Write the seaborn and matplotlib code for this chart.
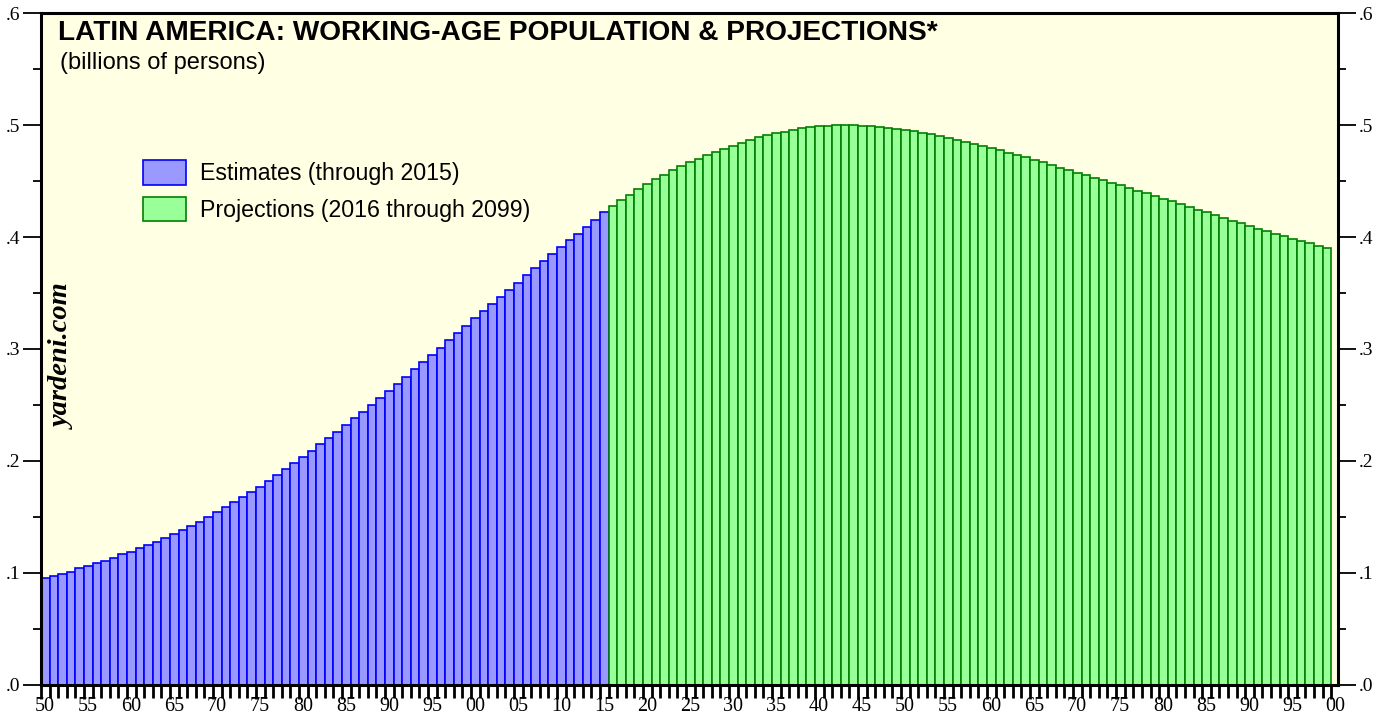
import matplotlib
matplotlib.use("Agg")
import matplotlib.pyplot as plt
import matplotlib.transforms as mtransforms
import pandas as pd
import seaborn as sns
from matplotlib.ticker import MultipleLocator, FuncFormatter

sns.set_style("ticks")
plt.rcParams['font.family'] = ['Liberation Sans', 'DejaVu Sans']
plt.rcParams['text.color'] = 'black'
plt.rcParams['xtick.color'] = 'black'
plt.rcParams['ytick.color'] = 'black'

# du lieu: dan so do tuoi lao dong (ty nguoi)
est_years = list(range(1950, 2016))
est_values = [
    0.0950, 0.0967, 0.0988, 0.1009, 0.1039, 0.1062, 0.1083, 0.1107, 0.1134, 0.1164,
    0.1188, 0.1218, 0.1244, 0.1274, 0.1307, 0.1343, 0.1381, 0.1414, 0.1456, 0.1498,
    0.1542, 0.1584, 0.1629, 0.1674, 0.1721, 0.1768, 0.1819, 0.1873, 0.1924, 0.1980,
    0.2037, 0.2090, 0.2147, 0.2204, 0.2260, 0.2323, 0.2380, 0.2439, 0.2502, 0.2564,
    0.2624, 0.2687, 0.2752, 0.2818, 0.2881, 0.2946, 0.3011, 0.3077, 0.3143, 0.3208,
    0.3274, 0.3337, 0.3402, 0.3464, 0.3527, 0.3592, 0.3658, 0.3721, 0.3786, 0.3852,
    0.3912, 0.3972, 0.4030, 0.4088, 0.4150, 0.4227,
]
proj_years = list(range(2016, 2100))
proj_values = [
    0.4278, 0.4329, 0.4379, 0.4427, 0.4472, 0.4517, 0.4555, 0.4597, 0.4633, 0.4669,
    0.4701, 0.4734, 0.4764, 0.4790, 0.4817, 0.4844, 0.4868, 0.4892, 0.4910, 0.4928,
    0.4942, 0.4958, 0.4972, 0.4981, 0.4990, 0.4996, 0.4999, 0.5000, 0.4999, 0.4996,
    0.4993, 0.4987, 0.4979, 0.4970,
    0.4958, 0.4946, 0.4931, 0.4919, 0.4904, 0.4886, 0.4871, 0.4853, 0.4835, 0.4817,
    0.4797, 0.4776, 0.4755, 0.4734, 0.4713, 0.4689, 0.4669, 0.4645, 0.4621, 0.4600,
    0.4576, 0.4552, 0.4531, 0.4510, 0.4486, 0.4463, 0.4439, 0.4415, 0.4392, 0.4368,
    0.4343, 0.4320, 0.4293, 0.4269, 0.4245, 0.4222, 0.4198, 0.4171, 0.4147, 0.4123,
    0.4099, 0.4075, 0.4055, 0.4031, 0.4007, 0.3983, 0.3962, 0.3945, 0.3923, 0.3903,
]
labels = ["Estimates (through 2015)", "Projections (2016 through 2099)"]

df_est = pd.DataFrame({"year": est_years, "value": est_values})
df_proj = pd.DataFrame({"year": proj_years, "value": proj_values})
# thanh bat dau tu dau nam -> dat o giua nam
df_est["mid"] = df_est["year"] + 0.5
df_proj["mid"] = df_proj["year"] + 0.5

fig = plt.figure(figsize=(13.93, 7.17), dpi=100)
ax = fig.add_axes([41 / 1393, 1 - 684.5 / 717, (1338 - 41) / 1393, (684.5 - 13.3) / 717])
ax.set_facecolor("#FFFFE3")

sns.barplot(data=df_est, x="mid", y="value", native_scale=True, width=1,
            color="#9999FF", edgecolor="#0000FF", linewidth=1.2, saturation=1,
            errorbar=None, ax=ax)
sns.barplot(data=df_proj, x="mid", y="value", native_scale=True, width=1,
            color="#99FF99", edgecolor="#008000", linewidth=1.2, saturation=1,
            errorbar=None, ax=ax)

ax.set_xlim(1950, 2100.8)
ax.set_ylim(0, 0.6)
ax.set_xlabel("")
ax.set_ylabel("")

for s in ax.spines.values():
    s.set_linewidth(2.2)
    s.set_color("black")

# truc x: nhan 2 chu so
ax.xaxis.set_major_locator(MultipleLocator(5))
ax.xaxis.set_minor_locator(MultipleLocator(1))
ax.xaxis.set_major_formatter(FuncFormatter(lambda v, p: "%02d" % (int(round(v)) % 100)))
ax.tick_params(axis="x", which="major", direction="out", length=10, width=2, pad=-1)
ax.tick_params(axis="x", which="minor", direction="out", length=9, width=2)

# truc y hai ben
ax.yaxis.set_major_locator(MultipleLocator(0.1))
ax.yaxis.set_minor_locator(MultipleLocator(0.05))
ax.yaxis.set_major_formatter(FuncFormatter(lambda v, p: ("%.1f" % v)[1:]))
ax.tick_params(axis="y", which="major", direction="out", length=13, width=1.3,
               left=True, right=True, labelleft=True, labelright=True, pad=2)
ax.tick_params(axis="y", which="minor", direction="out", length=6, width=1.3,
               left=True, right=True)

shift = mtransforms.ScaledTranslation(4 / 100, 0, fig.dpi_scale_trans)
for lab in ax.get_xticklabels():
    lab.set_fontfamily("Liberation Serif")
    lab.set_fontsize(14.5)
    lab.set_transform(lab.get_transform() + shift)
for lab in ax.get_yticklabels():
    lab.set_fontfamily("Liberation Serif")
    lab.set_fontsize(14)

ax.text(58 / 1393, 1 - 20 / 717, "LATIN AMERICA: WORKING-AGE POPULATION & PROJECTIONS*",
        transform=fig.transFigure, ha="left", va="top", fontsize=20.2, fontweight="bold")
ax.text(60 / 1393, 1 - 52 / 717, "(billions of persons)", transform=fig.transFigure,
        ha="left", va="top", fontsize=17)
ax.text(63 / 1393, 1 - 357 / 717, "yardeni.com", transform=fig.transFigure,
        rotation=90, ha="center", va="center", fontsize=20.5, fontweight="bold",
        fontstyle="italic", family="Liberation Serif")

ax.legend([ax.containers[0], ax.containers[1]], labels, loc="upper left",
          bbox_to_anchor=(127 / 1393, 1 - 144 / 717), bbox_transform=fig.transFigure,
          frameon=False, fontsize=16.7, handlelength=1.85, handleheight=1.25,
          labelspacing=0.5, handletextpad=0.6, borderpad=0.2)

plt.savefig("out.png", dpi=100)
